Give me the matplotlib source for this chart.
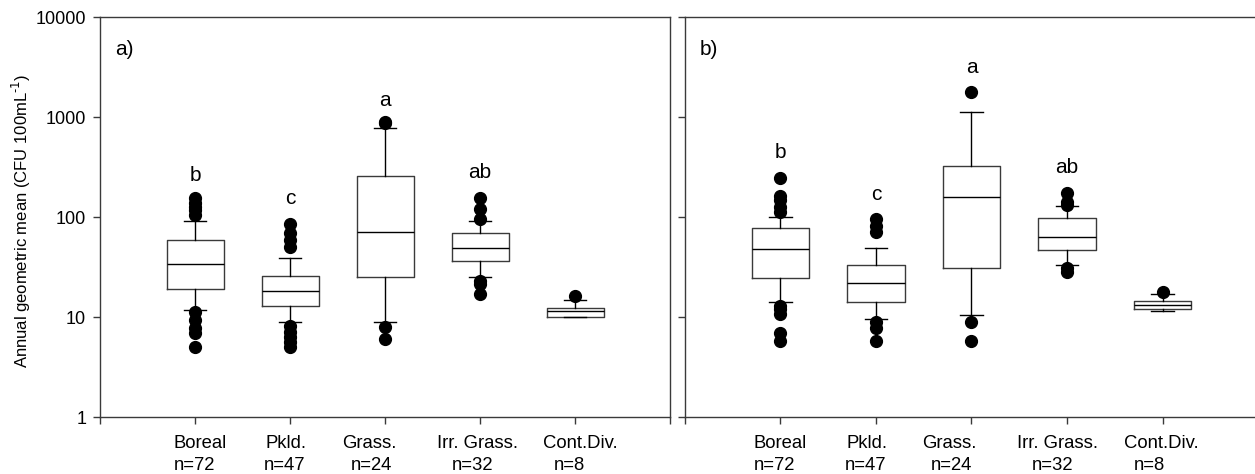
import matplotlib
matplotlib.use("Agg")
import matplotlib.pyplot as plt
import matplotlib.transforms as mtransforms
from matplotlib.ticker import FixedLocator, NullLocator

plt.rcParams["font.family"] = ["Liberation Sans", "DejaVu Sans"]
plt.rcParams["font.size"] = 13

# Categories and sample sizes
categories = ["Boreal", "Pkld.", "Grass.", "Irr. Grass.", "Cont.Div."]
n_sizes = [72, 47, 24, 32, 8]

# Panel a) box statistics (CFU 100 mL-1)
a_q1 = [19.0, 13.0, 25.5, 36.6, 10.0]
a_med = [33.9, 18.3, 71.8, 49.7, 11.6]
a_q3 = [58.9, 25.9, 259.0, 70.3, 12.5]
a_lo = [11.7, 9.0, 9.0, 25.5, 10.0]
a_hi = [91.2, 39.2, 776.0, 91.8, 15.0]
a_fliers = [
    [155, 140, 128, 117, 105, 11.2, 9.3, 7.9, 6.9, 5.0],
    [86, 69, 59, 51, 8.1, 7.1, 6.3, 5.6, 5.0],
    [898, 870, 8.0, 6.0],
    [157, 122, 96, 22.9, 21.4, 17.1],
    [16.2],
]
a_letters = ["b", "c", "a", "ab", ""]
a_letter_y = [263, 155, 1480, 282, 1]

# Panel b) box statistics
b_q1 = [24.6, 14.1, 30.9, 47.1, 12.1]
b_med = [48.2, 22.0, 158.0, 63.5, 13.2]
b_q3 = [78.7, 33.7, 326.0, 99.0, 14.7]
b_lo = [14.2, 9.7, 10.5, 33.7, 11.6]
b_hi = [100.7, 49.7, 1130.0, 130.6, 17.0]
b_fliers = [
    [245, 163, 149, 128, 113, 13.1, 12.2, 10.7, 6.9, 5.8],
    [96, 81, 72, 8.9, 7.8, 5.8],
    [1791, 8.9, 5.8],
    [176, 143, 133, 30.9, 28.6],
    [17.8],
]
b_letters = ["b", "c", "a", "ab", ""]
b_letter_y = [447, 170, 3160, 316, 1]

y_ticks = [1, 10, 100, 1000, 10000]
y_ticklabels = ["1", "10", "100", "1000", "10000"]

# horizontal nudges (px) of the two label lines, as laid out in the original
a_dx1 = [5, -4, -16, -2.5, 5]
a_dx2 = [-1, -5, -14, -7.5, -6]
b_dx1 = [0, -8.5, -22, -9.5, -1.5]
b_dx2 = [-6, -10, -20, -14, -13]

edge = "#3a3a3a"

fig = plt.figure(figsize=(12.55, 4.74), dpi=100)
ax_a = fig.add_axes([0.0797, 0.1196, 0.4542, 0.8439])
ax_b = fig.add_axes([0.5458, 0.1196, 0.4566, 0.8439])


def draw_panel(ax, q1, med, q3, lo, hi, fliers, letters, letter_y, tag, show_labels, dx1, dx2):
    stats = []
    for i in range(len(categories)):
        stats.append(dict(q1=q1[i], med=med[i], q3=q3[i], whislo=lo[i],
                          whishi=hi[i], fliers=fliers[i]))
    ax.bxp(stats, positions=range(1, len(categories) + 1), widths=0.6,
           capwidths=0.24, showfliers=True,
           boxprops=dict(color=edge, linewidth=1.0),
           medianprops=dict(color="black", linewidth=1.0),
           whiskerprops=dict(color="black", linewidth=1.0),
           capprops=dict(color="black", linewidth=1.0),
           flierprops=dict(marker="o", markerfacecolor="black",
                           markeredgecolor="black", markersize=8.5))
    ax.set_yscale("log")
    ax.set_ylim(1, 10000)
    ax.set_xlim(0, 6)
    ax.yaxis.set_major_locator(FixedLocator(y_ticks))
    ax.yaxis.set_minor_locator(NullLocator())
    if show_labels:
        ax.set_yticklabels(y_ticklabels)
    else:
        ax.set_yticklabels([])
    ax.set_xticks(range(0, 7))
    ax.set_xticklabels([])
    ax.tick_params(direction="out", length=5, width=1.0, color=edge, pad=5)
    for s in ax.spines.values():
        s.set_color(edge)
        s.set_linewidth(1.0)

    # two-line category labels below the axis
    base = ax.get_xaxis_transform()
    for i, (c, n) in enumerate(zip(categories, n_sizes)):
        t1 = base + mtransforms.ScaledTranslation(dx1[i] / 100, -30.7 / 100, fig.dpi_scale_trans)
        t2 = base + mtransforms.ScaledTranslation(dx2[i] / 100, -52.7 / 100, fig.dpi_scale_trans)
        ax.text(i + 1, 0, c, transform=t1, ha="center", va="baseline", fontsize=13.3)
        ax.text(i + 1, 0, f"n={n}", transform=t2, ha="center", va="baseline", fontsize=13.3)

    for i, (t, y) in enumerate(zip(letters, letter_y)):
        if t:
            ax.text(i + 1, y, t, ha="center", va="center", fontsize=15)
    ax.text(0.026, 0.92, tag, transform=ax.transAxes, ha="left", va="center", fontsize=15)


draw_panel(ax_a, a_q1, a_med, a_q3, a_lo, a_hi, a_fliers, a_letters, a_letter_y, "a)", True,
           a_dx1, a_dx2)
draw_panel(ax_b, b_q1, b_med, b_q3, b_lo, b_hi, b_fliers, b_letters, b_letter_y, "b)", False,
           b_dx1, b_dx2)

fig.text(21 / 1255, 253 / 474, r"Annual geometric mean (CFU 100mL$^{\text{-1}}$)",
         rotation=90, ha="center", va="center", fontsize=12)

fig.savefig("out.png", dpi=100)
